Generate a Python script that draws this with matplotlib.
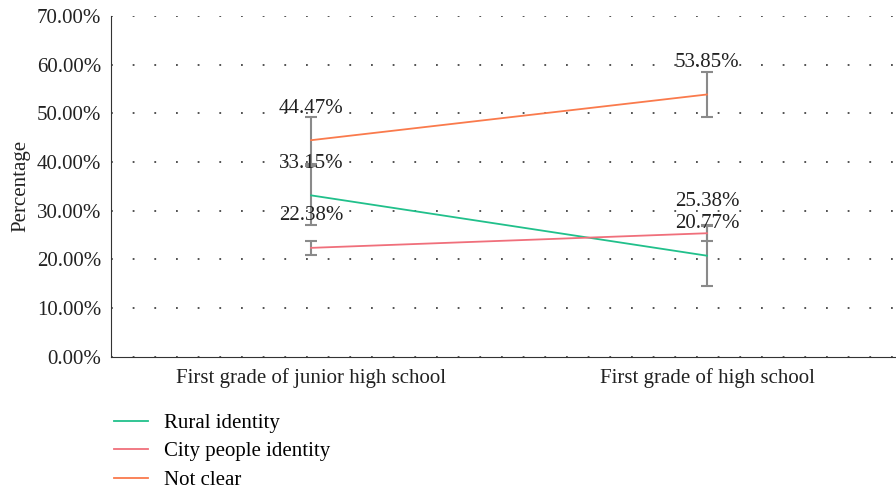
import matplotlib
matplotlib.use("Agg")
import matplotlib.pyplot as plt
from matplotlib.ticker import FuncFormatter

plt.rcParams['font.family'] = ['Liberation Serif', 'DejaVu Serif']

categories = ["First grade of junior high school", "First grade of high school"]
series_names = ["Rural identity", "City people identity", "Not clear"]
rural = [33.15, 20.77]
city = [22.38, 25.38]
not_clear = [44.47, 53.85]
rural_err = [6.0, 6.3]
city_err = [1.5, 1.5]
not_clear_err = [4.8, 4.7]

colors = ["#21c08b", "#f06f7b", "#fa7a4c"]
values = [rural, city, not_clear]
errors = [rural_err, city_err, not_clear_err]

fs = 15

fig = plt.figure(figsize=(8.96, 4.93), dpi=100)
ax = fig.add_axes([0.124, 0.276, 0.886, 0.692])

x = list(range(len(categories)))
for name, vals, err, c in zip(series_names, values, errors, colors):
    ax.plot(x, vals, color=c, lw=1.3, label=name, zorder=3)
    ax.errorbar(x, vals, yerr=err, fmt="none", ecolor="#8a8a8a",
                elinewidth=1.5, capsize=4.5, capthick=1.5, zorder=2)
    for xi, v in zip(x, vals):
        ax.annotate(f"{v:.2f}%", (xi, v), xytext=(0, 23), textcoords="offset points",
                    ha="center", va="center", fontsize=fs, color="#222222", zorder=4)

ax.set_xlim(-0.505, 1.5)
ax.set_ylim(0, 70)
ax.set_yticks(range(0, 71, 10))
ax.yaxis.set_major_formatter(FuncFormatter(lambda v, p: f"{v:.2f}%"))
ax.set_xticks(x)
ax.set_xticklabels(categories)
ax.tick_params(axis="both", length=0, labelsize=fs, colors="#222222")
ax.tick_params(axis="y", pad=7)
ax.tick_params(axis="x", pad=8)
ax.set_ylabel("Percentage", fontsize=fs, color="#222222", labelpad=5)

ax.grid(axis="y", color="#444444", linestyle=(0, (1, 11)), linewidth=1.3)
ax.set_axisbelow(True)
for s in ["top", "right"]:
    ax.spines[s].set_visible(False)
ax.spines["left"].set_color("#333333")
ax.spines["bottom"].set_color("#333333")

handles, labels = ax.get_legend_handles_labels()
fig.legend(handles, labels, loc="upper left", bbox_to_anchor=(0.118, 0.178),
           frameon=False, fontsize=fs, handlelength=1.65, labelspacing=0.42,
           handletextpad=0.75, borderaxespad=0)

fig.savefig("out.png", dpi=100)
